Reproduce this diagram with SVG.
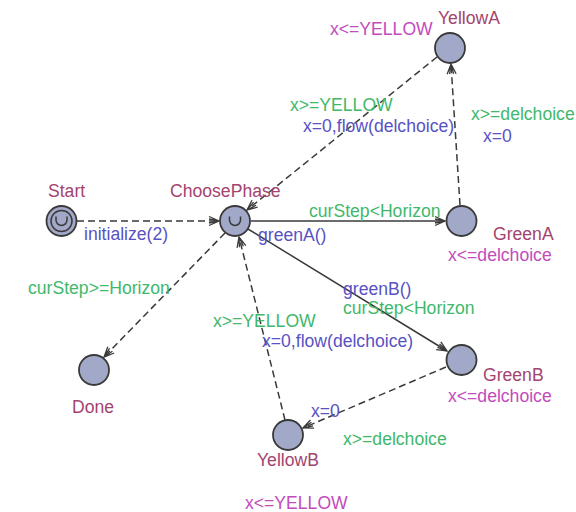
<svg xmlns="http://www.w3.org/2000/svg" width="576" height="512" viewBox="0 0 576 512">
<style>
text{font-family:"Liberation Sans",Arial,sans-serif;font-size:17.6px}
.nm{fill:#a3446e}
.inv{fill:#c24cbc}
.gd{fill:#3fb86c}
.up{fill:#5852c4}
.loc{fill:#a2a9c8;stroke:#3a3a3a;stroke-width:1.8}
.cup{fill:none;stroke:#3a3a3a;stroke-width:1.5}
.e{fill:none;stroke:#3a3a3a;stroke-width:1.5}
.d{stroke-dasharray:7 4}
</style>
<defs>
<marker id="ar" viewBox="-12 -6 14 12" refX="0" refY="0" markerWidth="14" markerHeight="12" orient="auto" markerUnits="userSpaceOnUse">
<path d="M-10,-4.5 L0,0 L-10,4.5 M-10,-2 L0,0 L-10,2" fill="none" stroke="#3a3a3a" stroke-width="1.3"/>
</marker>
</defs>
<rect width="576" height="512" fill="#ffffff"/>
<g id="edges">
<line class="e d" x1="77" y1="221" x2="219" y2="221" marker-end="url(#ar)"/>
<line class="e" x1="251" y1="221" x2="445" y2="221" marker-end="url(#ar)"/>
<line class="e" x1="248" y1="229" x2="447" y2="351" marker-end="url(#ar)"/>
<line class="e d" x1="460" y1="205" x2="451" y2="64" marker-end="url(#ar)"/>
<line class="e d" x1="437" y1="57" x2="247" y2="210" marker-end="url(#ar)"/>
<line class="e d" x1="225" y1="233" x2="104" y2="357" marker-end="url(#ar)"/>
<line class="e d" x1="446" y1="367" x2="303" y2="428" marker-end="url(#ar)"/>
<line class="e d" x1="285" y1="420" x2="239" y2="237" marker-end="url(#ar)"/>
</g>
<g id="Start">
<circle class="loc" cx="61.5" cy="221" r="15"/>
<circle cx="61.5" cy="221" r="10.5" fill="none" stroke="#3a3a3a" stroke-width="1.5"/>
<path class="cup" d="M56,216.5 v3.5 a5.5,5.5 0 0 0 11,0 v-3.5"/>
<text class="nm" x="48" y="197">Start</text>
</g>
<g id="ChoosePhase">
<circle class="loc" cx="235" cy="221" r="15"/>
<path class="cup" d="M229.5,216.5 v3.5 a5.5,5.5 0 0 0 11,0 v-3.5"/>
<text class="nm" x="170" y="197">ChoosePhase</text>
</g>
<g id="YellowA">
<circle class="loc" cx="450" cy="48" r="15"/>
<text class="nm" x="438" y="24">YellowA</text>
<text class="inv" x="330" y="35">x&lt;=YELLOW</text>
</g>
<g id="GreenA">
<circle class="loc" cx="461.5" cy="221" r="15"/>
<text class="nm" x="493" y="240">GreenA</text>
<text class="inv" x="448" y="261">x&lt;=delchoice</text>
</g>
<g id="GreenB">
<circle class="loc" cx="461.5" cy="360" r="15"/>
<text class="nm" x="483" y="381">GreenB</text>
<text class="inv" x="448" y="402">x&lt;=delchoice</text>
</g>
<g id="YellowB">
<circle class="loc" cx="288" cy="435" r="15"/>
<text class="nm" x="257" y="466">YellowB</text>
<text class="inv" x="245" y="509">x&lt;=YELLOW</text>
</g>
<g id="Done">
<circle class="loc" cx="94" cy="370" r="15"/>
<text class="nm" x="72" y="413">Done</text>
</g>
<g id="labels">
<text class="up" x="84" y="240">initialize(2)</text>
<text class="gd" x="309" y="217">curStep&lt;Horizon</text>
<text class="up" x="258" y="241">greenA()</text>
<text class="up" x="343" y="295">greenB()</text>
<text class="gd" x="343" y="314">curStep&lt;Horizon</text>
<text class="gd" x="471" y="120">x&gt;=delchoice</text>
<text class="up" x="483" y="142">x=0</text>
<text class="gd" x="290" y="111">x&gt;=YELLOW</text>
<text class="up" x="303" y="132">x=0,flow(delchoice)</text>
<text class="gd" x="28" y="294">curStep&gt;=Horizon</text>
<text class="gd" x="213" y="327">x&gt;=YELLOW</text>
<text class="up" x="262" y="347">x=0,flow(delchoice)</text>
<text class="up" x="311" y="417">x=0</text>
<text class="gd" x="343" y="445">x&gt;=delchoice</text>
</g>
</svg>
